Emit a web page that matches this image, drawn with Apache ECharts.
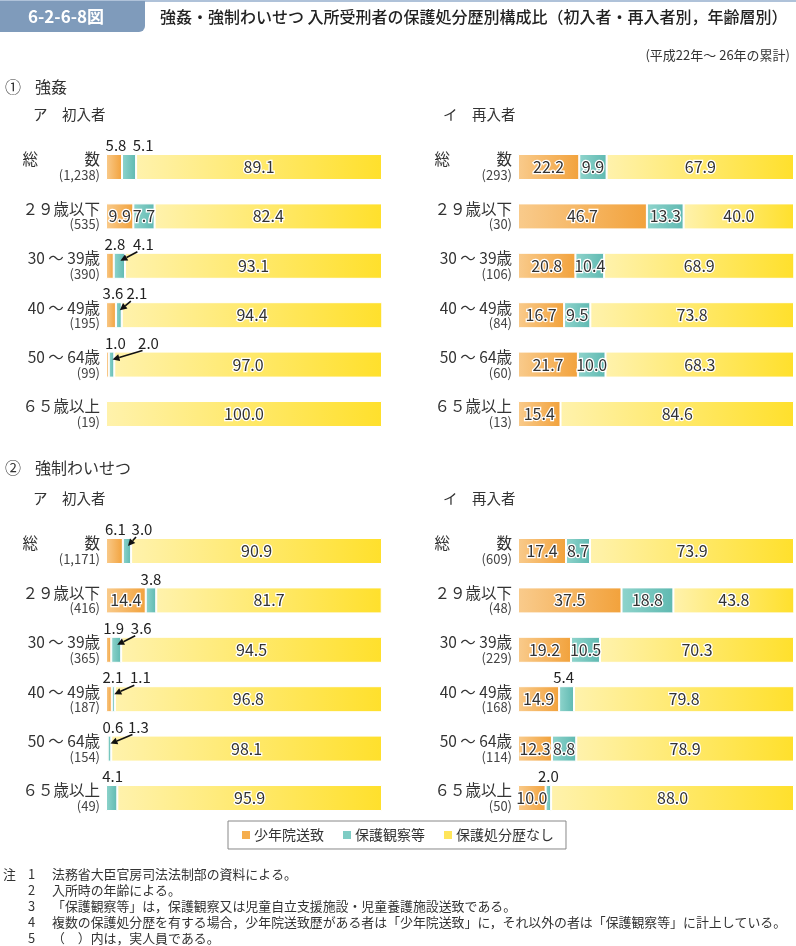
<!DOCTYPE html>
<html><head><meta charset="utf-8">
<script src="https://cdn.jsdelivr.net/npm/echarts@6/dist/echarts.min.js"></script>
<style>html,body{margin:0;padding:0;background:#fff}#c{width:796px;height:946px}</style>
</head><body><div id="c"></div>
<script>
// ---------- data ----------
const categories = ['総　　　数', '２９歳以下', '30 ～ 39歳', '40 ～ 49歳', '50 ～ 64歳', '６５歳以上'];
const seriesNames = ['少年院送致', '保護観察等', '保護処分歴なし'];

// ① 強姦 ア 初入者
const rapeFirstCounts = ['1,238', '535', '390', '195', '99', '19'];
const rapeFirstJuvenile = [5.8, 9.9, 2.8, 3.6, 1.0, 0];
const rapeFirstProbation = [5.1, 7.7, 4.1, 2.1, 2.0, 0];
const rapeFirstNone = [89.1, 82.4, 93.1, 94.4, 97.0, 100.0];
// ① 強姦 イ 再入者
const rapeRepeatCounts = ['293', '30', '106', '84', '60', '13'];
const rapeRepeatJuvenile = [22.2, 46.7, 20.8, 16.7, 21.7, 15.4];
const rapeRepeatProbation = [9.9, 13.3, 10.4, 9.5, 10.0, 0];
const rapeRepeatNone = [67.9, 40.0, 68.9, 73.8, 68.3, 84.6];
// ② 強制わいせつ ア 初入者
const indecFirstCounts = ['1,171', '416', '365', '187', '154', '49'];
const indecFirstJuvenile = [6.1, 14.4, 1.9, 2.1, 0.6, 0];
const indecFirstProbation = [3.0, 3.8, 3.6, 1.1, 1.3, 4.1];
const indecFirstNone = [90.9, 81.7, 94.5, 96.8, 98.1, 95.9];
// ② 強制わいせつ イ 再入者
const indecRepeatCounts = ['609', '48', '229', '168', '114', '50'];
const indecRepeatJuvenile = [17.4, 37.5, 19.2, 14.9, 12.3, 10.0];
const indecRepeatProbation = [8.7, 18.8, 10.5, 5.4, 8.8, 2.0];
const indecRepeatNone = [73.9, 43.8, 70.3, 79.8, 78.9, 88.0];

// ---------- layout ----------
const panels = [
  { counts: rapeFirstCounts, vals: [rapeFirstJuvenile, rapeFirstProbation, rapeFirstNone], left: 106, top: 142.3 },
  { counts: rapeRepeatCounts, vals: [rapeRepeatJuvenile, rapeRepeatProbation, rapeRepeatNone], left: 518, top: 142.3 },
  { counts: indecFirstCounts, vals: [indecFirstJuvenile, indecFirstProbation, indecFirstNone], left: 106, top: 526.3 },
  { counts: indecRepeatCounts, vals: [indecRepeatJuvenile, indecRepeatProbation, indecRepeatNone], left: 518, top: 526.3 }
];
const GRID_W = 276, GRID_H = 296.4, BAR_W = 26;
// horizontal offsets (px) for labels placed above small segments: key panel-row-series
const aboveOffsets = {
  '0-0-0': 2, '0-0-1': 14, '0-2-0': 5, '0-2-1': 24, '0-3-0': 2, '0-3-1': 18, '0-4-0': 8, '0-4-1': 37,
  '2-0-0': 1, '2-0-1': 15, '2-1-1': 0, '2-2-0': 5, '2-2-1': 25, '2-3-0': 4, '2-3-1': 27, '2-4-0': 6, '2-4-1': 29, '2-5-1': 1,
  '3-3-1': -3, '3-5-1': 0
};
const arrowKeys = ['0-2', '0-3', '0-4', '2-0', '2-2', '2-3', '2-4'];

const grads = [['#F9CB8C', '#F2A23C'], ['#8FD4CC', '#5FB9B1'], ['#FFF2AC', '#FFE02C']];
const solid = ['#F5AE4E', '#7ECCC4', '#FFE55A'];
const FONT = '"Noto Sans CJK JP", "Noto Sans", sans-serif';

function grad(c) {
  return { type: 'linear', x: 0, y: 0, x2: 1, y2: 0, colorStops: [{ offset: 0, color: c[0] }, { offset: 1, color: c[1] }] };
}

const grid = [], xAxis = [], yAxis = [], series = [];
panels.forEach((p, pi) => {
  grid.push({ left: p.left, top: p.top, width: GRID_W, height: GRID_H });
  xAxis.push({ type: 'value', gridIndex: pi, min: 0, max: 100, show: false });
  yAxis.push({
    type: 'category', gridIndex: pi, inverse: true, data: categories,
    axisLine: { show: false }, axisTick: { show: false },
    axisLabel: {
      margin: 6, align: 'right', fontFamily: FONT,
      formatter: (v, i) => '{n|' + v + '}\n{c|(' + p.counts[i] + ')}',
      rich: {
        n: { fontSize: 15.5, lineHeight: 16, color: '#333', align: 'right', fontFamily: FONT },
        c: { fontSize: 13, lineHeight: 15, color: '#444', align: 'right', fontFamily: FONT }
      }
    }
  });
  p.vals.forEach((arr, si) => {
    series.push({
      type: 'bar', name: seriesNames[si], stack: 'p' + pi, xAxisIndex: pi, yAxisIndex: pi,
      barWidth: BAR_W,
      itemStyle: { color: grad(grads[si]), borderColor: '#fff', borderWidth: 1 },
      data: arr.map((v, ri) => {
        const key = pi + '-' + ri + '-' + si;
        const item = { value: v };
        if (v === 0) {
          item.itemStyle = { borderWidth: 0 };
          item.label = { show: false };
        } else if (key in aboveOffsets) {
          item.label = {
            show: true, position: 'top', distance: 1, offset: [aboveOffsets[key], 0],
            formatter: (d) => d.value.toFixed(1), fontSize: 15, color: '#222', fontFamily: FONT
          };
        } else {
          item.label = {
            show: true, position: 'inside', formatter: (d) => d.value.toFixed(1),
            fontSize: 16, color: '#333', textBorderColor: '#fff', textBorderWidth: 2.5, fontFamily: FONT
          };
        }
        return item;
      })
    });
  });
});

const texts = [
  { x: 28, y: 17, text: '6-2-6-8図', font: 'bold 17px ' + FONT, fill: '#fff' },
  { x: 160, y: 17, text: '強姦・強制わいせつ 入所受刑者の保護処分歴別構成比（初入者・再入者別，年齢層別）', font: '500 16px ' + FONT, fill: '#222' },
  { x: 790, y: 55, text: '(平成22年～ 26年の累計)', font: '13px ' + FONT, fill: '#333', align: 'right' },
  { x: 5, y: 87, text: '①', font: '16px ' + FONT, fill: '#333' },
  { x: 35, y: 87, text: '強姦', font: '16px ' + FONT, fill: '#333' },
  { x: 33, y: 114, text: 'ア　初入者', font: '14.5px ' + FONT, fill: '#333' },
  { x: 443, y: 114, text: 'イ　再入者', font: '14.5px ' + FONT, fill: '#333' },
  { x: 5, y: 468, text: '②', font: '16px ' + FONT, fill: '#333' },
  { x: 35, y: 468, text: '強制わいせつ', font: '16px ' + FONT, fill: '#333' },
  { x: 33, y: 498, text: 'ア　初入者', font: '14.5px ' + FONT, fill: '#333' },
  { x: 443, y: 498, text: 'イ　再入者', font: '14.5px ' + FONT, fill: '#333' }
];
const notes = [
  ['注', '1', '法務省大臣官房司法法制部の資料による。'],
  ['', '2', '入所時の年齢による。'],
  ['', '3', '「保護観察等」は，保護観察又は児童自立支援施設・児童養護施設送致である。'],
  ['', '4', '複数の保護処分歴を有する場合，少年院送致歴がある者は「少年院送致」に，それ以外の者は「保護観察等」に計上している。'],
  ['', '5', '（　）内は，実人員である。']
];
const noteY = [874, 890, 906, 922, 938];

const graphic = [
  { type: 'rect', left: 0, top: 0, shape: { width: 796, height: 2 }, style: { fill: '#AFC2D9' } },
  { type: 'rect', shape: { x: 0, y: 1, width: 145, height: 31, r: [0, 0, 6, 0] }, style: { fill: '#7F9BBB' } }
];
texts.forEach(t => graphic.push({
  type: 'text', x: t.x, y: t.y,
  style: { text: t.text, font: t.font, fill: t.fill, align: t.align || 'left', verticalAlign: 'middle' }
}));
notes.forEach((n, i) => {
  const f = '12.9px ' + FONT;
  if (n[0]) graphic.push({ type: 'text', x: 3, y: noteY[i], style: { text: n[0], font: f, fill: '#333', verticalAlign: 'middle' } });
  graphic.push({ type: 'text', x: 28, y: noteY[i], style: { text: n[1], font: f, fill: '#333', verticalAlign: 'middle' } });
  graphic.push({ type: 'text', x: 52, y: noteY[i], style: { text: n[2], font: f, fill: '#333', verticalAlign: 'middle' } });
});

const chart = echarts.init(document.getElementById('c'), null, { renderer: 'canvas' });
chart.setOption({
  animation: false,
  backgroundColor: '#fff',
  textStyle: { fontFamily: FONT },
  grid, xAxis, yAxis, series,
  legend: {
    left: 228, top: 821, padding: [7, 12], itemGap: 17,
    borderColor: '#888', borderWidth: 1, borderRadius: 0,
    itemWidth: 10, itemHeight: 10, icon: 'rect',
    textStyle: { fontSize: 14, color: '#333', fontFamily: FONT, padding: [0, 0, 0, -2] },
    data: seriesNames.map((n, i) => ({ name: n, itemStyle: { color: solid[i] } }))
  },
  graphic
});

// arrows pointing from above-bar labels to small 保護観察等 segments (positions from the axes)
const arrowGraphics = [];
arrowKeys.forEach(k => {
  const [pi, ri] = k.split('-').map(Number);
  const v = panels[pi].vals;
  const mid = v[0][ri] + v[1][ri] / 2;
  const pt = chart.convertToPixel({ gridIndex: pi }, [mid, ri]);
  const off = aboveOffsets[pi + '-' + ri + '-1'];
  const barTop = pt[1] - BAR_W / 2;
  const x1 = pt[0] + off - 6, y1 = barTop - 1;
  const x2 = pt[0] + 1, y2 = barTop + 8;
  const dx = x2 - x1, dy = y2 - y1, len = Math.hypot(dx, dy);
  const ux = dx / len, uy = dy / len;
  const hl = 7, hw = 3.5;
  const bx = x2 - ux * hl, by = y2 - uy * hl;
  arrowGraphics.push({ type: 'line', z: 100, shape: { x1, y1, x2: bx, y2: by }, style: { stroke: '#111', lineWidth: 1.6 } });
  arrowGraphics.push({ type: 'polygon', z: 100, shape: { points: [[x2, y2], [bx - uy * hw, by + ux * hw], [bx + uy * hw, by - ux * hw]] }, style: { fill: '#111' } });
});
chart.setOption({ graphic: graphic.concat(arrowGraphics) });
</script></body></html>
